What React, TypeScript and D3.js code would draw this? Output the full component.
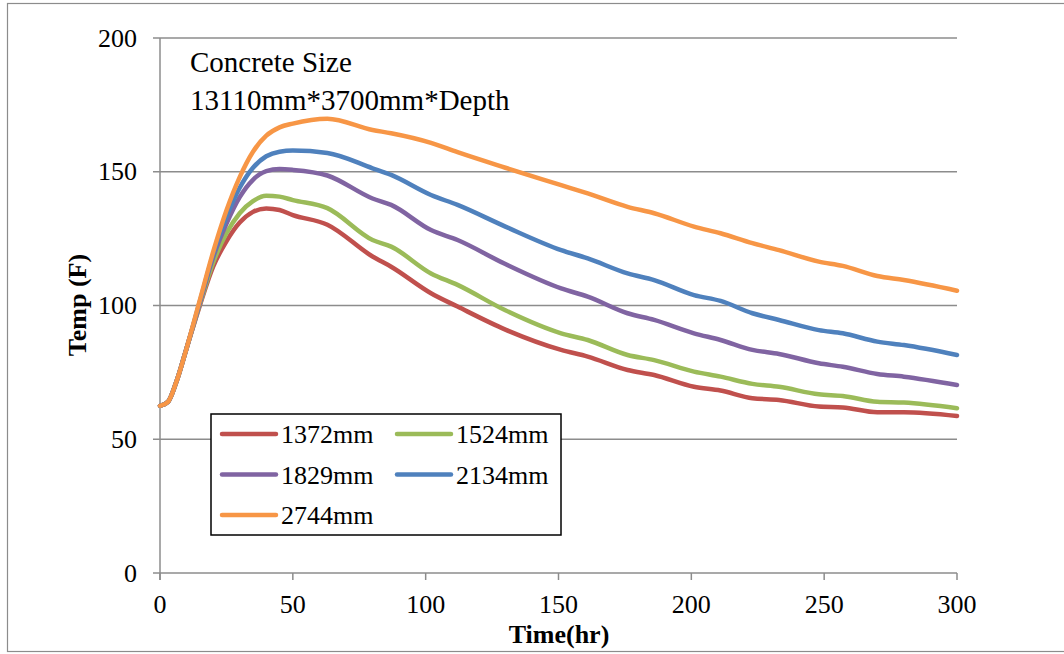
import React from "react";
import * as d3 from "d3";

const times = [0, 3, 6, 10, 15, 20, 25, 30, 35, 40, 45, 50, 63, 80, 87, 102, 112, 130, 151, 161, 176, 186, 201, 211, 223, 233, 248, 257, 270, 280, 300];

const s1372 = [62.5, 64, 71, 84, 100, 114.5, 124, 131, 135, 136.3, 135.7, 133.8, 130.2, 118.3, 114.5, 104.6, 99.6, 91, 83.4, 80.9, 75.9, 74, 69.6, 68.2, 65.3, 64.7, 62.2, 61.9, 60.1, 60.1, 58.7];
const s1524 = [62.5, 64, 71, 84, 100.5, 116, 127, 134.5, 139, 141, 140.7, 139.4, 136.4, 124.5, 122, 112, 107.7, 98.2, 89.6, 87.1, 81.5, 79.6, 75.3, 73.4, 70.7, 69.6, 66.8, 66.2, 64, 63.7, 61.6];
const s1829 = [62.5, 64, 71, 84, 101, 118, 130.5, 140.5, 147, 150.2, 151, 150.7, 148.6, 140, 137.6, 128.2, 124.5, 115.5, 106.4, 103.3, 97.1, 94.6, 89.6, 87.1, 83.4, 81.9, 78.4, 77.1, 74.4, 73.4, 70.3];
const s2134 = [62.5, 64, 71, 84, 101.5, 119, 133, 144, 151.5, 155.8, 157.5, 157.9, 157, 151.3, 148.8, 141.3, 137.6, 129.5, 120.7, 117.6, 112, 109.5, 103.9, 101.7, 97.1, 94.6, 90.8, 89.6, 86.5, 85.2, 81.5];
const s2744 = [62.5, 64, 71, 84, 102, 120, 135.5, 148, 157.5, 163.5, 166.6, 168, 169.8, 165.6, 164.4, 160.8, 157.3, 151.5, 145, 141.9, 136.9, 134.5, 129.5, 127, 123.3, 120.7, 116.4, 114.8, 111, 109.5, 105.5];

const seriesNames = ["1372mm", "1524mm", "1829mm", "2134mm", "2744mm"];
const seriesValues = [s1372, s1524, s1829, s2134, s2744];
const seriesColors = ["#C0504D", "#9BBB59", "#8064A2", "#4F81BD", "#F79646"];

const xTicks = [0, 50, 100, 150, 200, 250, 300];
const yTicks = [0, 50, 100, 150, 200];

const annotation = ["Concrete Size", "13110mm*3700mm*Depth"];

export default function App() {
  const W = 1064, H = 654;
  const left = 160, right = 957, top = 38, bottom = 573;
  const x = d3.scaleLinear().domain([0, 300]).range([left, right]);
  const y = d3.scaleLinear().domain([0, 200]).range([bottom, top]);
  const line = d3
    .line<number>()
    .x((_, i) => x(times[i]))
    .y((d) => y(d))
    .curve(d3.curveMonotoneX);
  const tf: React.CSSProperties = { fontFamily: '"Liberation Serif", "Times New Roman", Times, serif' };
  const grid = "#8c8c8c";

  const legendItems = seriesNames.map((n, i) => ({
    name: n,
    color: seriesColors[i],
    col: i % 2,
    row: Math.floor(i / 2),
  }));

  return (
    <svg
      width={W}
      height={H}
      style={{ position: "absolute", left: 0, top: 0, background: "#fff" }}
    >
      <rect x={7.5} y={3.5} width={1070} height={648} fill="#fff" stroke="#8c8c8c" strokeWidth={1.2} />
      {yTicks.map((t) => (
        <g key={"y" + t}>
          <line x1={left - 7} x2={right} y1={y(t)} y2={y(t)} stroke={grid} strokeWidth={1.5} />
          <text x={137} y={y(t) + 8.5} fontSize={26} textAnchor="end" fill="#000" style={tf}>
            {t}
          </text>
        </g>
      ))}
      <line x1={left} x2={left} y1={top} y2={bottom + 7} stroke={grid} strokeWidth={1.5} />
      {xTicks.map((t) => (
        <g key={"x" + t}>
          <line x1={x(t)} x2={x(t)} y1={bottom} y2={bottom + 7} stroke={grid} strokeWidth={1.5} />
          <text x={x(t)} y={613} fontSize={26} textAnchor="middle" fill="#000" style={tf}>
            {t}
          </text>
        </g>
      ))}
      {seriesValues.map((vals, i) => (
        <path
          key={seriesNames[i]}
          d={line(vals) || ""}
          fill="none"
          stroke={seriesColors[i]}
          strokeWidth={4.5}
          strokeLinecap="round"
          strokeLinejoin="round"
        />
      ))}
      {annotation.map((a, i) => (
        <text key={a} x={190} y={72 + i * 38} fontSize={29} fill="#000" style={tf}>
          {a}
        </text>
      ))}
      <text
        transform={`translate(86,${305}) rotate(-90)`}
        fontSize={26}
        fontWeight="bold"
        textAnchor="middle"
        fill="#000"
        style={tf}
      >
        Temp (F)
      </text>
      <text x={559} y={643} fontSize={26} fontWeight="bold" textAnchor="middle" fill="#000" style={tf}>
        Time(hr)
      </text>
      <rect x={211} y={414} width={350} height={121} fill="#fff" stroke="#000" strokeWidth={1.5} />
      {legendItems.map((it) => {
        const lx = 222 + it.col * 175;
        const ly = 434 + it.row * 40.5;
        return (
          <g key={it.name}>
            <line x1={lx} x2={lx + 54} y1={ly} y2={ly} stroke={it.color} strokeWidth={4.5} strokeLinecap="round" />
            <text x={lx + 59} y={ly + 9} fontSize={26} fill="#000" style={tf}>
              {it.name}
            </text>
          </g>
        );
      })}
    </svg>
  );
}
